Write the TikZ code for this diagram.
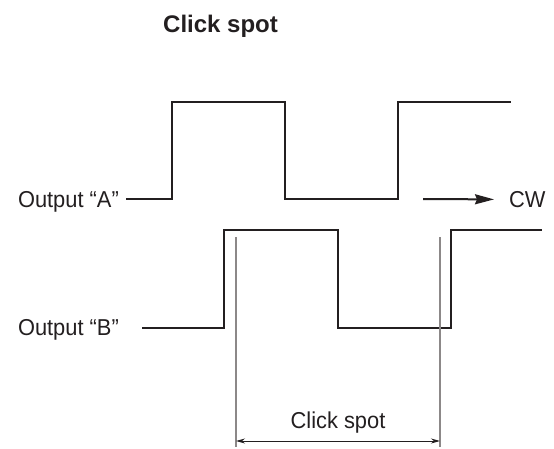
\documentclass[tikz,border=0pt]{standalone}
\usepackage{fontspec}
\setmainfont{Liberation Sans}
\newfontfamily\narrowfont[FakeStretch=0.95]{Liberation Sans}
\usetikzlibrary{arrows.meta,positioning}
\definecolor{ink}{RGB}{35,31,32}
\definecolor{guidegray}{RGB}{140,136,136}
\tikzset{
  lbl/.style={font=\narrowfont\fontsize{23}{27}\selectfont,text=ink,inner sep=0pt},
  wave/.style={draw=ink,line width=2pt},
  guide/.style={draw=guidegray,line width=1.5pt},
  dim/.style={draw=ink,line width=1pt,{Stealth[length=9pt,width=5pt]}-{Stealth[length=9pt,width=5pt]}}
}
\begin{document}
\begin{tikzpicture}[x=1pt,y=-1pt]
      \useasboundingbox (0,0) rectangle (554,449);
      \node[anchor=base west,inner sep=0pt,text=ink,font=\bfseries\fontsize{24}{28}\selectfont] (title) at (163,33) {Click spot};
      \node[lbl,anchor=base east] (outA) at (119,207.5) {Output “A”};
      \node[lbl,anchor=base east] (outB) at (119,335.5) {Output “B”};
      \node[lbl,anchor=base west] (cw) at (509,207.5) {CW};
      \coordinate (a0) at (126,199);
      \coordinate (b0) at (142,328);
      \coordinate (cw0) at (423,199);
      \draw[wave] (a0) -- (172,199) -- (172,102) -- (285,102) -- (285,199) -- (398,199) -- (398,102) -- (511,102);
      \draw[wave] (b0) -- (224,328) -- (224,230) -- (338,230) -- (338,328) -- (451,328) -- (451,230) -- (542,230);
      \draw[draw=ink,line width=2pt,-{Stealth[length=19pt,width=10pt,inset=2pt]},shorten >=15pt] (cw0) -- (cw);
      \coordinate (g1) at (236,237);
      \coordinate (g2) at (440,237);
      \coordinate (d1) at (236,441);
      \coordinate (d2) at (440,441);
      \draw[guide] (g1) -- ([yshift=-6pt]d1);
      \draw[guide] (g2) -- ([yshift=-6pt]d2);
      \draw[dim] (d1) -- (d2) node[lbl,midway,above=7pt] (spot) {Click spot};
    \end{tikzpicture}
\end{document}
